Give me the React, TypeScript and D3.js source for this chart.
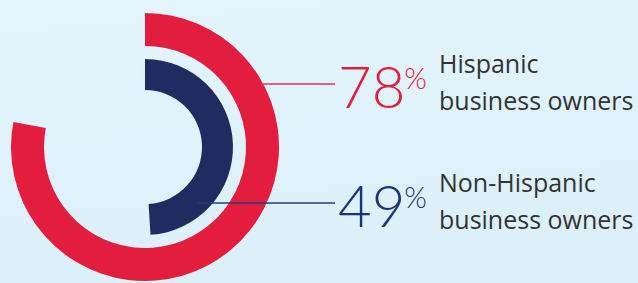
import { useEffect, useRef } from "react";
import * as d3 from "d3";

// chart values
const groups = ["Hispanic", "Non-Hispanic"];
const shares = [78, 49];
const labelLines = [
  ["Hispanic", "business owners"],
  ["Non-Hispanic", "business owners"],
];
const colors = ["#e21d3e", "#222b61"];
const numColors = ["#e21d3e", "#1b3479"];
const lineColors = ["#e3304c", "#1f3d7d"];

export default function App() {
  const ref = useRef<SVGSVGElement>(null);

  useEffect(() => {
    const svg = d3.select(ref.current);
    const width = 638;
    const height = 283;
    const cx = 145;
    const cy = 147;
    const rings = [
      { inner: 101, outer: 134 },
      { inner: 57, outer: 88 },
    ];
    const labelY = [84, 203];
    const lineStart = [263, 197];
    const lineEnd = 335;

    svg.selectAll("*").remove();
    svg.attr("viewBox", `0 0 ${width} ${height}`);

    const defs = svg.append("defs");
    const grad = defs
      .append("linearGradient")
      .attr("id", "bg")
      .attr("x1", "0%")
      .attr("y1", "0%")
      .attr("x2", "20%")
      .attr("y2", "100%");
    grad.append("stop").attr("offset", "0%").attr("stop-color", "#e3f4fc");
    grad.append("stop").attr("offset", "100%").attr("stop-color", "#dcf0f9");

    svg.append("rect").attr("width", width).attr("height", height).attr("fill", "url(#bg)");

    const angle = d3.scaleLinear().domain([0, 100]).range([0, 2 * Math.PI]);
    const arc = d3.arc<any>();

    const g = svg.append("g").attr("transform", `translate(${cx},${cy})`);

    // red leader line goes behind the rings
    svg
      .append("line")
      .attr("x1", lineStart[0])
      .attr("x2", lineEnd)
      .attr("y1", labelY[0])
      .attr("y2", labelY[0])
      .attr("stroke", lineColors[0])
      .attr("stroke-width", 1.5);

    g.selectAll("path")
      .data(shares)
      .join("path")
      .attr("d", (d, i) =>
        arc({
          innerRadius: rings[i].inner,
          outerRadius: rings[i].outer,
          startAngle: 0,
          endAngle: angle(d),
        })
      )
      .attr("fill", (d, i) => colors[i]);

    // navy leader line drawn over the rings
    svg
      .append("line")
      .attr("x1", lineStart[1])
      .attr("x2", lineEnd)
      .attr("y1", labelY[1])
      .attr("y2", labelY[1])
      .attr("stroke", lineColors[1])
      .attr("stroke-width", 1.5);

    const labels = svg
      .append("g")
      .selectAll("g")
      .data(groups)
      .join("g")
      .attr("transform", (d, i) => `translate(0,${labelY[i]})`);

    const num = labels
      .append("text")
      .attr("x", 338)
      .attr("y", 24)
      .attr("fill", (d, i) => numColors[i])
      .style("font-family", "Lato, 'Open Sans', sans-serif")
      .style("font-weight", 300);
    num
      .append("tspan")
      .style("font-size", "58px")
      .text((d, i) => String(shares[i]));
    num
      .append("tspan")
      .attr("dx", -1)
      .attr("dy", -19)
      .style("font-size", "29px")
      .text("%");

    labels
      .append("text")
      .attr("x", 439)
      .attr("y", -11)
      .attr("fill", "#333333")
      .style("font-family", "'Open Sans', sans-serif")
      .style("font-size", "25px")
      .selectAll("tspan")
      .data((d, i) => labelLines[i])
      .join("tspan")
      .attr("x", 439)
      .attr("dy", (d, j) => (j === 0 ? 0 : 37))
      .text((d) => d);
  }, []);

  return (
    <>
      <style>{"body{margin:0}"}</style>
      <svg ref={ref} width={638} height={283} style={{ display: "block" }} />
    </>
  );
}
